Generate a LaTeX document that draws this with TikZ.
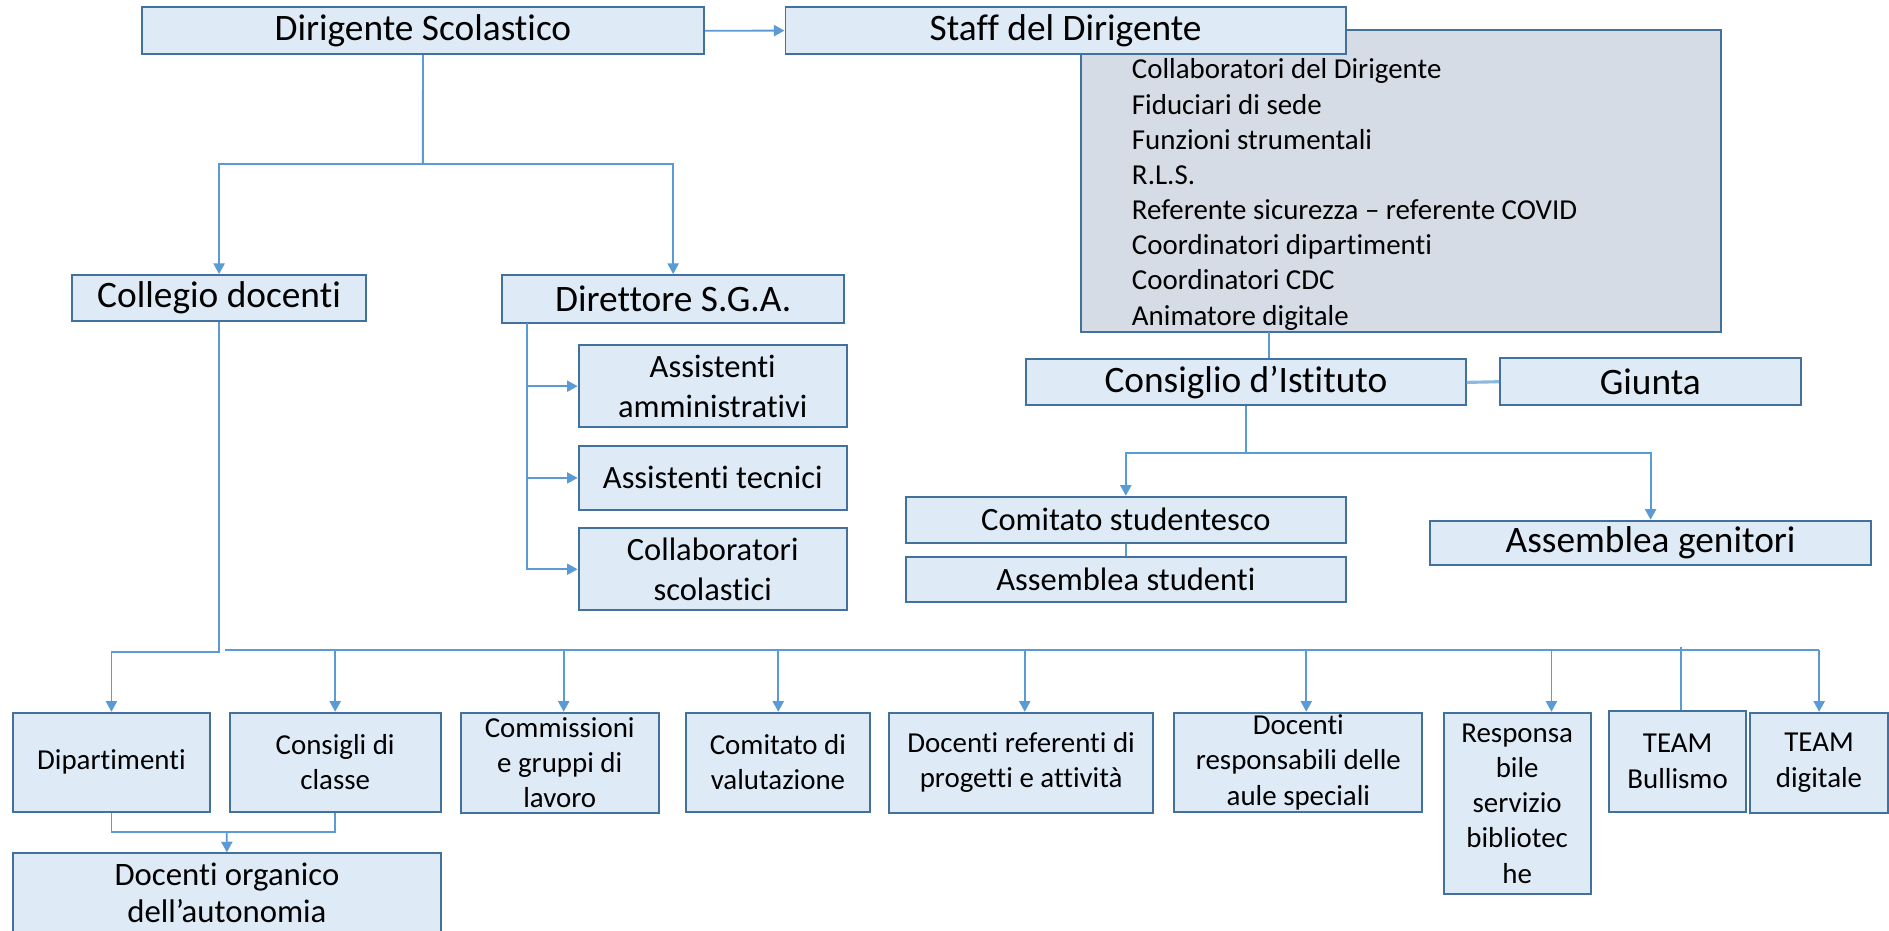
\documentclass[tikz,border=0pt]{standalone}
\usepackage{fontspec}
\setmainfont{Carlito}[Ligatures={TeX,NoCommon}]
\usetikzlibrary{arrows.meta}
\definecolor{boxfill}{HTML}{DEEBF7}
\definecolor{boxline}{HTML}{41719C}
\definecolor{conn}{HTML}{5B9BD5}
\definecolor{greyfill}{HTML}{D6DCE5}
\begin{document}
\begin{tikzpicture}[x=0.5pt,y=-0.5pt,
  box/.style={draw=boxline, fill=boxfill, line width=0.8pt, inner sep=0pt, align=center},
  sz/.style 2 args={minimum width=#1, minimum height=#2},
  big/.style={font=\fontsize{15.5pt}{18.6pt}\selectfont},
  mid/.style={font=\fontsize{13.5pt}{16.4pt}\selectfont},
  small/.style={font=\fontsize{12pt}{14.6pt}\selectfont},
  orgfont/.style={font=\fontsize{13.6pt}{15.4pt}\selectfont},
  link/.style={draw=conn, line width=0.75pt},
  arr/.style={link, -{Triangle[width=4.6pt,length=4.4pt]}},
]
\useasboundingbox (0,0) rectangle (1568,772);
\clip (0,0) rectangle (1568,772);
\fill[white] (0,0) rectangle (1568,772);

% top row
\node[box,big,sz={233.35pt}{19.5pt}] (dir) at (351.05,25.5) {Dirigente Scolastico};
\node[draw=boxline, fill=greyfill, line width=0.8pt, inner sep=0pt, sz={265.8pt}{125.15pt}] (grey) at (1162.8,150.15) {};
\node[box,big,sz={232.55pt}{19.4pt}] (staff) at (884.55,25.4) {Staff del Dirigente};
\foreach \t [count=\i from 0] in {Collaboratori del Dirigente, Fiduciari di sede, Funzioni strumentali, R.L.S., Referente sicurezza – referente COVID, Coordinatori dipartimenti, Coordinatori CDC, Animatore digitale}
  \node[small, anchor=base west, inner sep=0pt] (s\i) at (939.2,{65.5+29.2*\i}) {\t};

% second level
\node[box,big,sz={122.15pt}{19.1pt}] (coll) at (181.85,247.4) {Collegio docenti};
\node[box,big,sz={141.75pt}{19.85pt}] (dsga) at (558.75,248.15) {Direttore S.G.A.};
\node[box,mid,sz={111.3pt}{34.15pt}] (aa) at (591.6,320.55) {Assistenti\\amministrativi};
\node[box,mid,sz={111.3pt}{26.7pt}] (at) at (591.6,396.7) {Assistenti tecnici};
\node[box,mid,sz={111.3pt}{33.9pt}] (cs) at (591.6,472.5) {Collaboratori\\scolastici};
\node[box,big,sz={182.4pt}{19.1pt}] (cons) at (1034.2,317.4) {Consiglio d’Istituto};
\node[box,big,sz={124.95pt}{19.65pt}] (giunta) at (1369.85,316.85) {Giunta};
\node[box,mid,sz={182.7pt}{19.1pt}] (comst) at (934.5,431.4) {Comitato studentesco};
\node[box,mid,sz={182.7pt}{18.7pt}] (assst) at (934.5,480.8) {Assemblea studenti};
\node[box,big,sz={182.9pt}{18.4pt}] (assgen) at (1370.1,450.6) {Assemblea genitori};

% bottom row
\node[box,small,sz={81.5pt}{41.1pt}] (dip) at (92.5,632.7) {Dipartimenti};
\node[box,small,sz={87.5pt}{41.1pt}] (cdc) at (278.2,632.7) {Consigli di\\classe};
\node[box,small,sz={82.3pt}{41.7pt}] (comm) at (464.6,633.3) {Commissioni\\e gruppi di\\lavoro};
\node[box,small,sz={76.25pt}{41.1pt}] (cval) at (645.75,632.7) {Comitato di\\valutazione};
\node[box,small,sz={109.6pt}{41.5pt}] (dref) at (847.6,633.1) {Docenti referenti di\\progetti e attività};
\node[box,small,sz={102.95pt}{41.1pt}] (dresp) at (1077.75,632.7) {Docenti\\responsabili delle\\aule speciali};
\node[box,small,sz={61.05pt}{75.4pt}] (resp) at (1259.35,667) {Responsa\\bile\\servizio\\bibliotec\\he};
\node[box,small,sz={57.05pt}{41.9pt}] (tbul) at (1392.55,631.9) {TEAM\\Bullismo};
\node[box,small,sz={57.3pt}{41.5pt}] (tdig) at (1509.9,633.1) {TEAM\\digitale};
\node[box,orgfont,sz={177.35pt}{33pt}] (org) at (188.35,741.3) {Docenti organico\\dell’autonomia};

% connectors
\draw[arr] (dir.east) -- (staff.west);
\coordinate (j1) at (351,136.4);
\draw[link] (dir.south) -- (j1);
\draw[arr] (j1) -| (coll.north);
\draw[arr] (j1) -| (dsga.north);

\coordinate (dv) at (437.5,268);
\draw[arr] (dv) |- (aa.west);
\draw[arr] (dv) |- (at.west);
\draw[arr] (dv) |- (cs.west);

\coordinate (g1) at (1053.6,275.3);
\draw[link] (g1) -- (g1 |- cons.north);
\draw[link, draw=conn!70, line width=1.3pt] (cons.east) -- (giunta.west);
\coordinate (k1) at (1034.2,375.8);
\draw[link] (cons.south) -- (k1);
\draw[arr] (k1) -| (comst.north);
\draw[arr] (k1) -| (assgen.north);
\draw[link] (comst.south) -- (assst.north);

\coordinate (cy) at (182.6,541);
\draw[arr] (coll.south) -- (coll.south |- cy) -| (dip.north);
\coordinate (bus0) at (186.6,539.6);
\coordinate (bus1) at (1510,539.6);
\draw[link] (bus0) -- (bus1);
\foreach \n/\x in {cdc/278.2, comm/467.9, cval/646, dref/850.6, dresp/1084.3, resp/1287.8, tdig/1510}{
  \coordinate (t\n) at (\x,539.6);
  \draw[arr] (t\n) -- (t\n |- \n.north);
}
\coordinate (ttbul) at (1395.3,536.8);
\draw[link] (ttbul) -- (ttbul |- tbul.north);

\coordinate (m1) at (188.2,690.4);
\draw[link] (dip.south) |- (m1) -| (cdc.south);
\draw[arr] (m1) -- (org.north);
\end{tikzpicture}
\end{document}
